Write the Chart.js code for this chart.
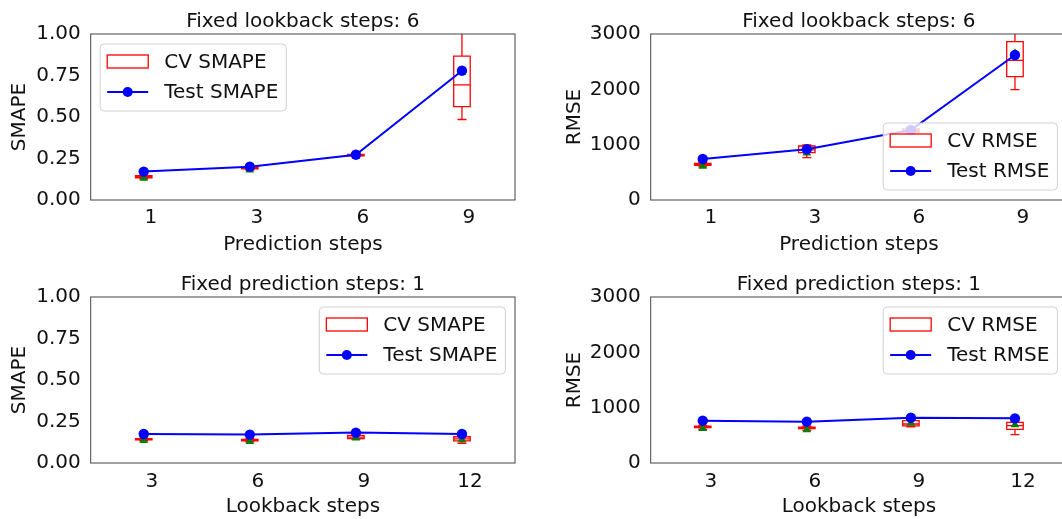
<!DOCTYPE html>
<html>
<head>
<meta charset="utf-8">
<script src="https://cdn.jsdelivr.net/npm/chart.js@4.4.1/dist/chart.umd.min.js"></script>
<style>
  html, body { margin: 0; padding: 0; background: #fff; }
  #wrap { position: relative; width: 1062px; height: 519px; overflow: hidden; }
  canvas { position: absolute; }
</style>
</head>
<body>
<div id="wrap">
  <canvas id="c1" width="530" height="260" style="left:0;top:0"></canvas>
  <canvas id="c2" width="545" height="260" style="left:530px;top:0"></canvas>
  <canvas id="c3" width="530" height="259" style="left:0;top:260px"></canvas>
  <canvas id="c4" width="545" height="259" style="left:530px;top:260px"></canvas>
</div>
<script>
const FONT = 'DejaVu Sans';
const TEXT = '#111';

// верхний ряд: lookback = 6, по оси x - шаги прогноза
const predSteps = ['1', '3', '6', '9'];
const testSmapePred = [0.171, 0.201, 0.273, 0.779];
const cvSmapePredMin = [0.128, 0.180, 0.262, 0.485];
const cvSmapePredQ1 = [0.134, 0.188, 0.266, 0.562];
const cvSmapePredMed = [0.140, 0.193, 0.270, 0.693];
const cvSmapePredQ3 = [0.146, 0.199, 0.274, 0.867];
const cvSmapePredMax = [0.150, 0.205, 0.278, 1.05];
const cvSmapePredMean = [0.131, 0.180, 0.263, 0.770];

const testRmsePred = [741, 916, 1265, 2620];
const cvRmsePredMin = [600, 765, 1200, 1994];
const cvRmsePredQ1 = [625, 855, 1230, 2230];
const cvRmsePredMed = [642, 905, 1255, 2525];
const cvRmsePredQ3 = [660, 976, 1285, 2861];
const cvRmsePredMax = [680, 995, 1310, 3150];
const cvRmsePredMean = [612, 850, 1245, 2650];

// нижний ряд: prediction = 1, по оси x - шаги lookback
const lookSteps = ['3', '6', '9', '12'];
const testSmapeLook = [0.175, 0.171, 0.183, 0.175];
const cvSmapeLookMin = [0.133, 0.128, 0.143, 0.119];
const cvSmapeLookQ1 = [0.139, 0.134, 0.147, 0.133];
const cvSmapeLookMed = [0.143, 0.138, 0.156, 0.145];
const cvSmapeLookQ3 = [0.147, 0.142, 0.167, 0.158];
const cvSmapeLookMax = [0.150, 0.146, 0.172, 0.162];
const cvSmapeLookMean = [0.136, 0.130, 0.150, 0.140];

const testRmseLook = [765, 747, 819, 807];
const cvRmseLookMin = [605, 590, 655, 511];
const cvRmseLookQ1 = [640, 620, 670, 609];
const cvRmseLookMed = [652, 635, 705, 674];
const cvRmseLookQ3 = [665, 650, 765, 735];
const cvRmseLookMax = [680, 665, 785, 750];
const cvRmseLookMean = [622, 602, 725, 690];

const BOX_W = 16.5;
const CAP_W = 9;

// плагин: боксы CV, рамка осей и легенда
function makeBoxPlugin(st, lg) {
	return {
		id: 'cvBoxes',
		beforeDatasetsDraw(chart) {
			const {ctx, chartArea: a, scales: {x, y}} = chart;
			ctx.save();
			ctx.beginPath();
			ctx.rect(a.left, a.top, a.right - a.left, a.bottom - a.top);
			ctx.clip();
			ctx.strokeStyle = 'red';
			ctx.lineWidth = 1.3;
			for (let i = 0; i < st.med.length; i++) {
				const cx = x.getPixelForValue(i);
				const yMin = y.getPixelForValue(st.min[i]);
				const yQ1 = y.getPixelForValue(st.q1[i]);
				const yMed = y.getPixelForValue(st.med[i]);
				const yQ3 = y.getPixelForValue(st.q3[i]);
				const yMax = y.getPixelForValue(st.max[i]);
				ctx.beginPath();
				ctx.rect(cx - BOX_W / 2, yQ3, BOX_W, yQ1 - yQ3);
				ctx.moveTo(cx - BOX_W / 2, yMed); ctx.lineTo(cx + BOX_W / 2, yMed);
				ctx.moveTo(cx, yQ1); ctx.lineTo(cx, yMin);
				ctx.moveTo(cx, yQ3); ctx.lineTo(cx, yMax);
				ctx.moveTo(cx - CAP_W / 2, yMin); ctx.lineTo(cx + CAP_W / 2, yMin);
				ctx.moveTo(cx - CAP_W / 2, yMax); ctx.lineTo(cx + CAP_W / 2, yMax);
				ctx.stroke();
			}
			ctx.restore();
		},
		afterDraw(chart) {
			const {ctx, chartArea: a} = chart;
			ctx.save();
			ctx.strokeStyle = '#444';
			ctx.lineWidth = 1;
			ctx.strokeRect(a.left, a.top, a.right - a.left, a.bottom - a.top);

			ctx.font = '20px "' + FONT + '"';
			const tw = Math.max(ctx.measureText(lg.cv).width, ctx.measureText(lg.test).width);
			const w = 64 + tw + 8, h = 67;
			let lx, ly;
			if (lg.pos === 'ul') { lx = a.left + 9.5; ly = a.top + 10; }
			if (lg.pos === 'ur') { lx = a.right - 9.6 - w; ly = a.top + 10; }
			if (lg.pos === 'lr') { lx = a.right - 9.6 - w; ly = a.bottom - 10 - h; }
			ctx.beginPath();
			ctx.roundRect(lx, ly, w, h, 4);
			ctx.fillStyle = 'rgba(255,255,255,0.8)';
			ctx.fill();
			ctx.strokeStyle = '#d0d0d0';
			ctx.stroke();

			const r1 = ly + 17.5, r2 = ly + 48;
			ctx.strokeStyle = 'red';
			ctx.lineWidth = 1.3;
			ctx.strokeRect(lx + 7, r1 - 6.5, 41, 13);
			ctx.strokeStyle = 'blue';
			ctx.lineWidth = 2;
			ctx.beginPath();
			ctx.moveTo(lx + 7, r2); ctx.lineTo(lx + 48, r2);
			ctx.stroke();
			ctx.fillStyle = 'blue';
			ctx.beginPath();
			ctx.arc(lx + 27.5, r2, 5, 0, Math.PI * 2);
			ctx.fill();

			ctx.fillStyle = TEXT;
			ctx.textBaseline = 'middle';
			ctx.fillText(lg.cv, lx + 64, r1 + 1);
			ctx.fillText(lg.test, lx + 64, r2 + 1);
			ctx.restore();
		}
	};
}

function makePanel(id, p) {
	const font = {family: FONT, size: 20};
	const config = {
		type: 'line',
		data: {
			labels: p.labels,
			datasets: [{
				label: p.lg.test,
				data: p.test,
				borderColor: 'blue',
				backgroundColor: 'blue',
				borderWidth: 2,
				pointRadius: 5.2,
				pointBorderWidth: 0,
				pointBackgroundColor: 'blue',
				tension: 0,
				order: 0
			}, {
				label: 'mean',
				data: p.stats.mean,
				showLine: false,
				pointStyle: 'triangle',
				pointRadius: 5,
				pointBorderWidth: 0,
				pointBackgroundColor: 'green',
				order: 1
			}]
		},
		options: {
			responsive: false,
			animation: false,
			layout: { padding: { left: 0, right: p.padRight, top: 0, bottom: 0 } },
			plugins: {
				legend: { display: false },
				tooltip: { enabled: false },
				title: {
					display: true,
					fullSize: false,
					text: p.title,
					color: TEXT,
					font: {family: FONT, size: 20, weight: 'normal'},
					padding: p.titlePad
				}
			},
			scales: {
				x: {
					type: 'category',
					offset: true,
					grid: { display: false, drawTicks: false },
					border: { display: false },
					ticks: { font: font, color: TEXT, padding: p.xTickPad, labelOffset: p.labelOffset, maxRotation: 0, autoSkip: false },
					title: { display: true, text: p.xTitle, color: TEXT, font: font, padding: {top: 0, bottom: p.xTitlePad} },
					afterFit: s => { s.height = p.xH; }
				},
				y: {
					min: 0,
					max: p.yMax,
					grid: { display: false, drawTicks: false },
					border: { display: false },
					ticks: { font: font, color: TEXT, padding: 10, stepSize: p.yStep, callback: p.yFmt },
					title: { display: true, text: p.yTitle, color: TEXT, font: font, padding: {top: p.yTitlePad, bottom: 0} },
					afterFit: s => { s.width = p.yW; }
				}
			}
		},
		plugins: [makeBoxPlugin(p.stats, p.lg)]
	};
	return new Chart(document.getElementById(id), config);
}

const smapeFmt = v => v.toFixed(2);
const rmseFmt = v => String(v);

makePanel('c1', {
	labels: predSteps, test: testSmapePred,
	stats: {min: cvSmapePredMin, q1: cvSmapePredQ1, med: cvSmapePredMed, q3: cvSmapePredQ3, max: cvSmapePredMax, mean: cvSmapePredMean},
	lg: {cv: 'CV SMAPE', test: 'Test SMAPE', pos: 'ul'},
	title: 'Fixed lookback steps: 6', titlePad: {top: 10, bottom: 0},
	xTitle: 'Prediction steps', yTitle: 'SMAPE',
	yMax: 1, yStep: 0.25, yFmt: smapeFmt,
	yW: 90.7, padRight: 15, xH: 60, xTickPad: 6, xTitlePad: 3, yTitlePad: 8, labelOffset: 7
});

makePanel('c2', {
	labels: predSteps, test: testRmsePred,
	stats: {min: cvRmsePredMin, q1: cvRmsePredQ1, med: cvRmsePredMed, q3: cvRmsePredQ3, max: cvRmsePredMax, mean: cvRmsePredMean},
	lg: {cv: 'CV RMSE', test: 'Test RMSE', pos: 'lr'},
	title: 'Fixed lookback steps: 6', titlePad: {top: 10, bottom: 0},
	xTitle: 'Prediction steps', yTitle: 'RMSE',
	yMax: 3000, yStep: 1000, yFmt: rmseFmt,
	yW: 120.7, padRight: 8, xH: 60, xTickPad: 6, xTitlePad: 3, yTitlePad: 33, labelOffset: 8
});

makePanel('c3', {
	labels: lookSteps, test: testSmapeLook,
	stats: {min: cvSmapeLookMin, q1: cvSmapeLookQ1, med: cvSmapeLookMed, q3: cvSmapeLookQ3, max: cvSmapeLookMax, mean: cvSmapeLookMean},
	lg: {cv: 'CV SMAPE', test: 'Test SMAPE', pos: 'ur'},
	title: 'Fixed prediction steps: 1', titlePad: {top: 13, bottom: 0},
	xTitle: 'Lookback steps', yTitle: 'SMAPE',
	yMax: 1, yStep: 0.25, yFmt: smapeFmt,
	yW: 90.7, padRight: 15, xH: 56, xTickPad: 6.7, xTitlePad: 0, yTitlePad: 8, labelOffset: 8
});

makePanel('c4', {
	labels: lookSteps, test: testRmseLook,
	stats: {min: cvRmseLookMin, q1: cvRmseLookQ1, med: cvRmseLookMed, q3: cvRmseLookQ3, max: cvRmseLookMax, mean: cvRmseLookMean},
	lg: {cv: 'CV RMSE', test: 'Test RMSE', pos: 'ur'},
	title: 'Fixed prediction steps: 1', titlePad: {top: 13, bottom: 0},
	xTitle: 'Lookback steps', yTitle: 'RMSE',
	yMax: 3000, yStep: 1000, yFmt: rmseFmt,
	yW: 120.7, padRight: 8, xH: 56, xTickPad: 6.7, xTitlePad: 0, yTitlePad: 33, labelOffset: 8
});
</script>
</body>
</html>
